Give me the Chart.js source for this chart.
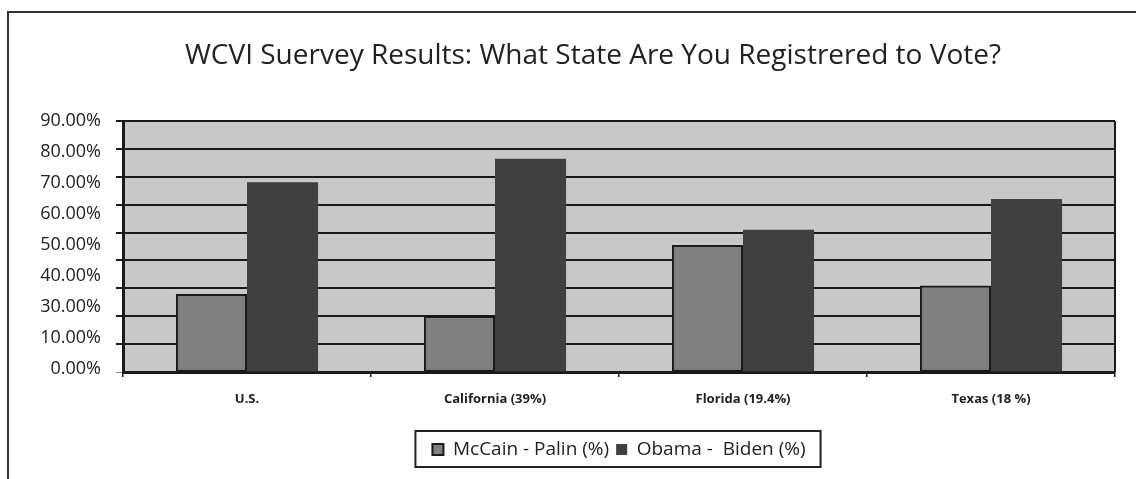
<!DOCTYPE html>
<html>
<head>
<meta charset="utf-8">
<script src="https://cdn.jsdelivr.net/npm/chart.js@4.4.1/dist/chart.umd.min.js"></script>
<style>
  html, body { margin: 0; padding: 0; background: #fff; }
  #wrap { width: 1136px; height: 479px; }
</style>
</head>
<body>
<div id="wrap"><canvas id="c" width="1136" height="479"></canvas></div>
<script>
const categories = ["U.S.", "California (39%)", "Florida (19.4%)", "Texas (18 %)"];
const mccainPalin = [28, 20, 45.5, 31];
const obamaBiden = [68, 76.5, 51, 62];
const seriesNames = ["McCain - Palin (%)", "Obama -  Biden (%)"];
const yTickLabels = ["0.00%", "10.00%", "30.00%", "40.00%", "50.00%", "60.00%", "70.00%", "80.00%", "90.00%"];
const titleText = "WCVI Suervey Results: What State Are You Registrered to Vote?";

const FONT = "'Open Sans', 'DejaVu Sans', sans-serif";

const decor = {
  id: 'decor',
  beforeDraw(chart) {
    const { ctx, chartArea: a } = chart;
    ctx.save();
    ctx.fillStyle = '#c8c8c8';
    ctx.fillRect(a.left, a.top, a.right - a.left, a.bottom - a.top);
    ctx.strokeStyle = '#333';
    ctx.lineWidth = 2;
    ctx.beginPath();
    ctx.moveTo(8, 479);
    ctx.lineTo(8, 12);
    ctx.lineTo(1136, 12);
    ctx.stroke();
    // title
    ctx.fillStyle = '#222';
    ctx.font = "normal 28px " + FONT;
    ctx.textAlign = 'center';
    ctx.textBaseline = 'middle';
    ctx.fillText(titleText, 593, 56);
    ctx.restore();
  },
  afterDraw(chart) {
    const { ctx, chartArea: a } = chart;
    ctx.save();
    ctx.strokeStyle = '#1a1a1a';
    ctx.lineWidth = 2;
    ctx.beginPath();
    ctx.moveTo(a.right, a.top);
    ctx.lineTo(a.right, a.bottom);
    ctx.stroke();
    const hb = chart.legend && chart.legend.legendHitBoxes;
    if (hb && hb.length) {
      const first = hb[0], last = hb[hb.length - 1];
      const l = first.left - 17, r = last.left + last.width + 15;
      const t = Math.min(...hb.map(h => h.top)) - 9;
      const b = Math.max(...hb.map(h => h.top + h.height)) + 8;
      ctx.lineWidth = 2;
      ctx.strokeStyle = '#222';
      ctx.strokeRect(l, t, r - l, b - t);
    }
    ctx.restore();
  }
};

new Chart(document.getElementById('c'), {
  type: 'bar',
  data: {
    labels: categories,
    datasets: [
      { label: seriesNames[0], data: mccainPalin, backgroundColor: '#808080', borderColor: '#1a1a1a', borderWidth: 2, borderSkipped: false, yAxisID: 'y' },
      { label: seriesNames[1], data: obamaBiden, backgroundColor: '#404040', borderColor: '#404040', borderWidth: 0, yAxisID: 'y' }
    ]
  },
  options: {
    responsive: false,
    animation: false,
    devicePixelRatio: 1,
    layout: { padding: { left: 5, right: 21, top: 121, bottom: 10 } },
    datasets: { bar: { categoryPercentage: 0.573, barPercentage: 1.0 } },
    plugins: {
      tooltip: { enabled: false },
      title: { display: false },
      legend: {
        position: 'bottom',
        fullSize: false,
        labels: {
          color: '#222',
          font: { family: FONT, size: 19 },
          boxWidth: 11,
          boxHeight: 11,
          padding: 7
        }
      }
    },
    scales: {
      x: {
        grid: { display: true, drawOnChartArea: false, drawTicks: true, tickLength: 5, color: '#1a1a1a', lineWidth: 1.5, offset: true },
        border: { display: true, color: '#1a1a1a', width: 3 },
        ticks: { color: '#222', font: { family: FONT, size: 13, weight: 'bold' }, padding: 14, maxRotation: 0 },
        afterFit(s) { s.height = 61; }
      },
      y: {
        position: 'left',
        weight: 0,
        min: 0,
        max: 90,
        ticks: { display: false, stepSize: 10 },
        grid: {
          color: (c) => (c.tick && c.tick.value === 0) ? '#8a8a8a' : '#1a1a1a',
          lineWidth: (c) => (c.tick && c.tick.value === 0) ? 1 : 2,
          tickLength: 7,
          drawTicks: true
        },
        border: { display: true, color: '#1a1a1a', width: 3 },
        afterFit(s) { s.width = 21; }
      },
      y2: {
        position: 'left',
        weight: 5,
        min: -0.1,
        max: 8,
        grid: { display: false, drawTicks: false },
        border: { display: false },
        ticks: {
          color: '#222',
          font: { family: FONT, size: 18 },
          padding: 1,
          callback: (v) => yTickLabels[Math.round(v)] || ''
        },
        afterBuildTicks(s) { s.ticks = yTickLabels.map((_, i) => ({ value: i })); },
        afterFit(s) { s.width = 97; }
      }
    }
  },
  plugins: [decor]
});
</script>
</body>
</html>
